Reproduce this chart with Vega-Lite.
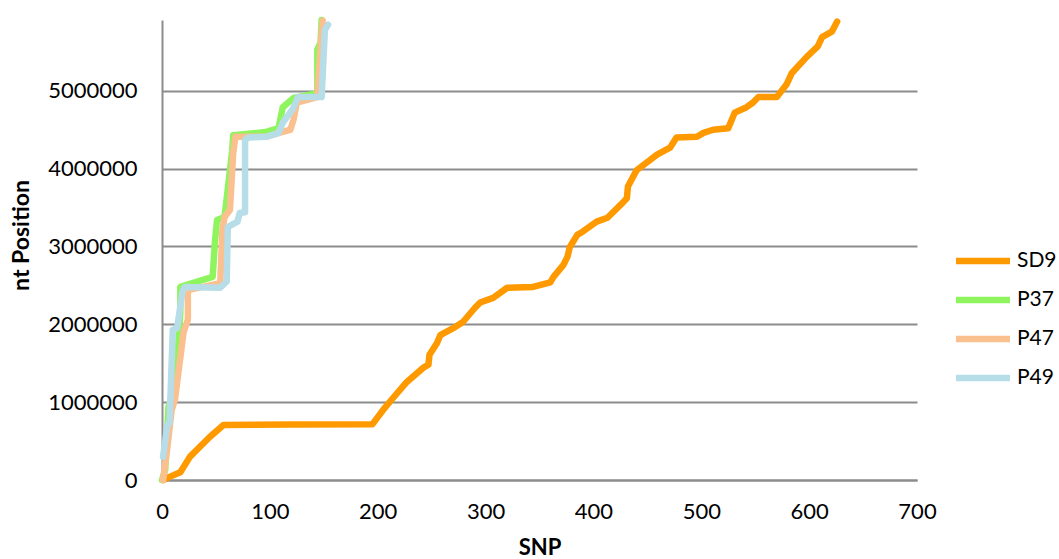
{
  "$schema": "https://vega.github.io/schema/vega-lite/v6.json",
  "width": 755,
  "height": 460,
  "autosize": {"type": "none"},
  "padding": {"left": 162, "top": 20, "right": 142, "bottom": 79},
  "background": "white",
  "config": {
    "view": {"stroke": null},
    "font": "Lato",
    "axis": {"labelFont": "Lato", "titleFont": "Lato", "labelColor": "#000", "titleColor": "#000"},
    "legend": {"labelFont": "Lato"}
  },
  "data": {"values": [
    {"s":"SD9","i":0,"x":1,"y":0},
    {"s":"SD9","i":1,"x":7,"y":40000},
    {"s":"SD9","i":2,"x":17,"y":100000},
    {"s":"SD9","i":3,"x":26,"y":300000},
    {"s":"SD9","i":4,"x":44,"y":550000},
    {"s":"SD9","i":5,"x":57,"y":707000},
    {"s":"SD9","i":6,"x":120,"y":712000},
    {"s":"SD9","i":7,"x":195,"y":715000},
    {"s":"SD9","i":8,"x":205,"y":900000},
    {"s":"SD9","i":9,"x":214,"y":1050000},
    {"s":"SD9","i":10,"x":227,"y":1260000},
    {"s":"SD9","i":11,"x":242,"y":1440000},
    {"s":"SD9","i":12,"x":247,"y":1480000},
    {"s":"SD9","i":13,"x":248,"y":1610000},
    {"s":"SD9","i":14,"x":255,"y":1760000},
    {"s":"SD9","i":15,"x":258,"y":1860000},
    {"s":"SD9","i":16,"x":270,"y":1950000},
    {"s":"SD9","i":17,"x":279,"y":2030000},
    {"s":"SD9","i":18,"x":290,"y":2210000},
    {"s":"SD9","i":19,"x":295,"y":2280000},
    {"s":"SD9","i":20,"x":307,"y":2340000},
    {"s":"SD9","i":21,"x":320,"y":2470000},
    {"s":"SD9","i":22,"x":344,"y":2480000},
    {"s":"SD9","i":23,"x":360,"y":2540000},
    {"s":"SD9","i":24,"x":363,"y":2610000},
    {"s":"SD9","i":25,"x":372,"y":2760000},
    {"s":"SD9","i":26,"x":376,"y":2870000},
    {"s":"SD9","i":27,"x":378,"y":2990000},
    {"s":"SD9","i":28,"x":385,"y":3150000},
    {"s":"SD9","i":29,"x":390,"y":3190000},
    {"s":"SD9","i":30,"x":403,"y":3320000},
    {"s":"SD9","i":31,"x":413,"y":3370000},
    {"s":"SD9","i":32,"x":427,"y":3560000},
    {"s":"SD9","i":33,"x":431,"y":3620000},
    {"s":"SD9","i":34,"x":432,"y":3770000},
    {"s":"SD9","i":35,"x":440,"y":3980000},
    {"s":"SD9","i":36,"x":459,"y":4180000},
    {"s":"SD9","i":37,"x":471,"y":4270000},
    {"s":"SD9","i":38,"x":477,"y":4400000},
    {"s":"SD9","i":39,"x":496,"y":4410000},
    {"s":"SD9","i":40,"x":502,"y":4460000},
    {"s":"SD9","i":41,"x":511,"y":4500000},
    {"s":"SD9","i":42,"x":525,"y":4520000},
    {"s":"SD9","i":43,"x":531,"y":4720000},
    {"s":"SD9","i":44,"x":542,"y":4790000},
    {"s":"SD9","i":45,"x":548,"y":4850000},
    {"s":"SD9","i":46,"x":553,"y":4920000},
    {"s":"SD9","i":47,"x":570,"y":4920000},
    {"s":"SD9","i":48,"x":579,"y":5080000},
    {"s":"SD9","i":49,"x":584,"y":5230000},
    {"s":"SD9","i":50,"x":598,"y":5440000},
    {"s":"SD9","i":51,"x":608,"y":5570000},
    {"s":"SD9","i":52,"x":612,"y":5690000},
    {"s":"SD9","i":53,"x":621,"y":5760000},
    {"s":"SD9","i":54,"x":626,"y":5890000},

    {"s":"P37","i":0,"x":0,"y":0},
    {"s":"P37","i":1,"x":3,"y":130000},
    {"s":"P37","i":2,"x":6,"y":940000},
    {"s":"P37","i":3,"x":12,"y":1200000},
    {"s":"P37","i":4,"x":14,"y":1520000},
    {"s":"P37","i":5,"x":17,"y":2150000},
    {"s":"P37","i":6,"x":17,"y":2480000},
    {"s":"P37","i":7,"x":38,"y":2570000},
    {"s":"P37","i":8,"x":47,"y":2610000},
    {"s":"P37","i":9,"x":49,"y":3050000},
    {"s":"P37","i":10,"x":51,"y":3340000},
    {"s":"P37","i":11,"x":58,"y":3380000},
    {"s":"P37","i":12,"x":65,"y":4220000},
    {"s":"P37","i":13,"x":66,"y":4430000},
    {"s":"P37","i":14,"x":96,"y":4470000},
    {"s":"P37","i":15,"x":108,"y":4520000},
    {"s":"P37","i":16,"x":112,"y":4790000},
    {"s":"P37","i":17,"x":122,"y":4910000},
    {"s":"P37","i":18,"x":144,"y":4970000},
    {"s":"P37","i":19,"x":144,"y":5530000},
    {"s":"P37","i":20,"x":147,"y":5620000},
    {"s":"P37","i":21,"x":148,"y":5910000},

    {"s":"P47","i":0,"x":1,"y":0},
    {"s":"P47","i":1,"x":5,"y":420000},
    {"s":"P47","i":2,"x":9,"y":900000},
    {"s":"P47","i":3,"x":12,"y":1030000},
    {"s":"P47","i":4,"x":20,"y":1900000},
    {"s":"P47","i":5,"x":24,"y":2060000},
    {"s":"P47","i":6,"x":24,"y":2440000},
    {"s":"P47","i":7,"x":54,"y":2530000},
    {"s":"P47","i":8,"x":56,"y":3210000},
    {"s":"P47","i":9,"x":58,"y":3380000},
    {"s":"P47","i":10,"x":63,"y":3470000},
    {"s":"P47","i":11,"x":66,"y":4200000},
    {"s":"P47","i":12,"x":68,"y":4410000},
    {"s":"P47","i":13,"x":97,"y":4410000},
    {"s":"P47","i":14,"x":111,"y":4470000},
    {"s":"P47","i":15,"x":119,"y":4500000},
    {"s":"P47","i":16,"x":122,"y":4630000},
    {"s":"P47","i":17,"x":125,"y":4850000},
    {"s":"P47","i":18,"x":144,"y":4920000},
    {"s":"P47","i":19,"x":147,"y":5530000},
    {"s":"P47","i":20,"x":148,"y":5750000},
    {"s":"P47","i":21,"x":149,"y":5900000},

    {"s":"P49","i":0,"x":1,"y":300000},
    {"s":"P49","i":1,"x":5,"y":710000},
    {"s":"P49","i":2,"x":7,"y":730000},
    {"s":"P49","i":3,"x":10,"y":1930000},
    {"s":"P49","i":4,"x":14,"y":1950000},
    {"s":"P49","i":5,"x":19,"y":2420000},
    {"s":"P49","i":6,"x":21,"y":2480000},
    {"s":"P49","i":7,"x":54,"y":2470000},
    {"s":"P49","i":8,"x":60,"y":2550000},
    {"s":"P49","i":9,"x":61,"y":3250000},
    {"s":"P49","i":10,"x":70,"y":3320000},
    {"s":"P49","i":11,"x":72,"y":3430000},
    {"s":"P49","i":12,"x":77,"y":3440000},
    {"s":"P49","i":13,"x":77,"y":4370000},
    {"s":"P49","i":14,"x":80,"y":4400000},
    {"s":"P49","i":15,"x":97,"y":4410000},
    {"s":"P49","i":16,"x":108,"y":4460000},
    {"s":"P49","i":17,"x":112,"y":4590000},
    {"s":"P49","i":18,"x":121,"y":4760000},
    {"s":"P49","i":19,"x":125,"y":4880000},
    {"s":"P49","i":20,"x":126,"y":4920000},
    {"s":"P49","i":21,"x":148,"y":4920000},
    {"s":"P49","i":22,"x":151,"y":5780000},
    {"s":"P49","i":23,"x":154,"y":5850000}
  ]},
  "mark": {"type": "line", "strokeJoin": "round", "strokeCap": "round"},
  "encoding": {
    "x": {
      "field": "x", "type": "quantitative",
      "scale": {"domain": [0, 700], "nice": false},
      "axis": {
        "title": "SNP", "values": [0,100,200,300,400,500,600,700],
        "grid": false, "ticks": false, "labelPadding": 21,
        "labelFontSize": 22, "titleFontSize": 22, "titleFontWeight": "bold",
        "titleY": 74, "titleBaseline": "alphabetic",
        "domainColor": "#8c8c8c", "domainWidth": 2, "labelFlush": false
      }
    },
    "y": {
      "field": "y", "type": "quantitative",
      "scale": {"domain": [0, 5910000], "nice": false},
      "axis": {
        "title": "nt Position", "values": [0,1000000,2000000,3000000,4000000,5000000],
        "format": "d", "grid": true, "gridColor": "#8c8c8c", "gridWidth": 2,
        "ticks": false, "labelPadding": 25, "labelFontSize": 22,
        "titleFontSize": 23, "titleFontWeight": "bold",
        "titleX": -141, "titleY": 215, "titleAngle": -90, "titleAlign": "center", "titleBaseline": "middle",
        "domainColor": "#8c8c8c", "domainWidth": 2, "labelFlush": false
      }
    },
    "color": {
      "field": "s", "type": "nominal",
      "scale": {"domain": ["SD9","P37","P47","P49"], "range": ["#ff9900","#8ef55e","#fbc08f","#b7dde8"]},
      "legend": {
        "title": null, "orient": "none", "legendX": 804, "legendY": 224,
        "symbolType": "M-2,0H2", "symbolSize": 729, "symbolStrokeWidth": 6, "symbolFillColor": "transparent",
        "labelFontSize": 21, "labelColor": "#000", "labelOffset": 17, "rowPadding": 9, "labelLimit": 200
      }
    },
    "strokeWidth": {
      "field": "s", "type": "nominal",
      "scale": {"domain": ["SD9","P37","P47","P49"], "range": [6.5, 6.5, 5.5, 7]},
      "legend": null
    },
    "order": {"field": "i", "type": "quantitative"}
  }
}
